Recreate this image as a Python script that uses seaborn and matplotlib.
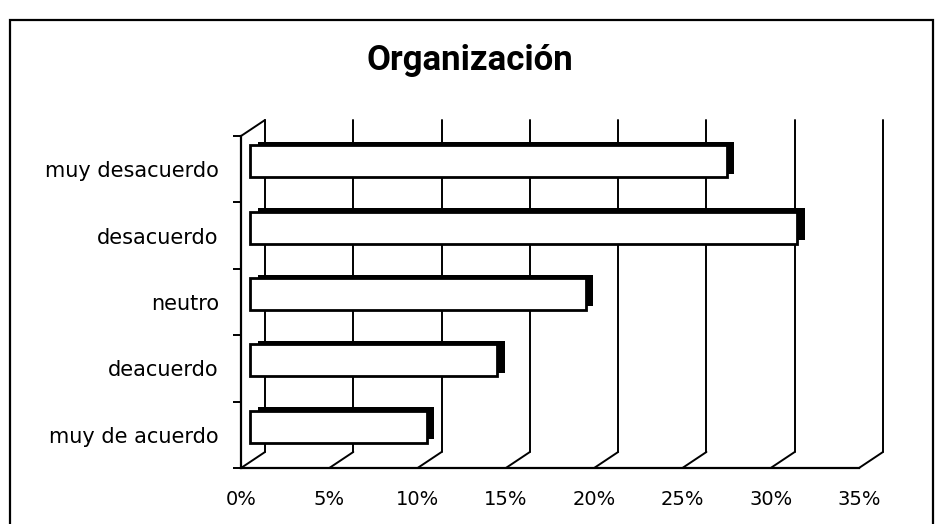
import matplotlib
matplotlib.use('Agg')
import matplotlib.pyplot as plt
import matplotlib.patheffects as pe
from matplotlib.transforms import ScaledTranslation
from matplotlib.patches import Rectangle
from matplotlib.lines import Line2D
from matplotlib.ticker import PercentFormatter, MultipleLocator, FixedLocator
import pandas as pd
import seaborn as sns

# Data
categories = ['muy desacuerdo', 'desacuerdo', 'neutro', 'deacuerdo', 'muy de acuerdo']
values = [0.27, 0.31, 0.19, 0.14, 0.10]
x_ticks = [0.0, 0.05, 0.10, 0.15, 0.20, 0.25, 0.30, 0.35]
title = 'Organización'

df = pd.DataFrame({'respuesta': categories, 'porcentaje': values})

sns.set_style('white')
plt.rcParams['font.family'] = ['DejaVu Sans']
plt.rcParams['text.color'] = 'black'
plt.rcParams['xtick.color'] = 'black'
plt.rcParams['ytick.color'] = 'black'
plt.rcParams['axes.labelcolor'] = 'black'

fig = plt.figure(figsize=(9.39, 5.24), dpi=100)
ax = fig.add_axes([0.2567, 0.1069, 0.6581, 0.6336])

# depth of the fake 3D box, in pixels
dx, dy = 24 / 100, 16 / 100
back = ScaledTranslation(dx, dy, fig.dpi_scale_trans)
mid = ScaledTranslation(9 / 100, dy / 2, fig.dpi_scale_trans)

sns.barplot(data=df, x='porcentaje', y='respuesta', orient='h', ax=ax,
            color='white', edgecolor='black', linewidth=2, width=0.48,
            saturation=1, zorder=3)
for bar in ax.patches:
    bar.set_transform(ax.transData + mid)
    bar.set_path_effects([pe.SimplePatchShadow(offset=(5.5, 2.5), shadow_rgbFace='black', alpha=1),
                          pe.Normal()])

ax.set_xlim(0, 0.35)
ax.set_ylim(len(categories) - 0.5, -0.5)

# back wall gridlines and floor diagonals
xtr = ax.get_xaxis_transform()
for xv in x_ticks:
    ax.add_line(Line2D([xv, xv], [0, 1], transform=xtr + back, color='black',
                       lw=1.4, zorder=1, clip_on=False))
    ax.annotate('', xy=(xv, 0), xycoords=xtr + back, xytext=(xv, 0), textcoords=xtr,
                arrowprops=dict(arrowstyle='-', color='black', lw=1.4,
                                shrinkA=0, shrinkB=0), annotation_clip=False)
# left wall top edge
ax.annotate('', xy=(0, 1), xycoords=ax.transAxes + back, xytext=(0, 1),
            textcoords=ax.transAxes,
            arrowprops=dict(arrowstyle='-', color='black', lw=1.4, shrinkA=0, shrinkB=0),
            annotation_clip=False)

for s in ['top', 'right']:
    ax.spines[s].set_visible(False)
for s in ['left', 'bottom']:
    ax.spines[s].set_color('black')
    ax.spines[s].set_linewidth(1.6)

ax.xaxis.set_major_locator(FixedLocator(x_ticks))
ax.xaxis.set_major_formatter(PercentFormatter(1.0, decimals=0))
ax.yaxis.set_minor_locator(MultipleLocator(1, offset=0.5))
ax.tick_params(axis='x', which='major', direction='out', length=5, width=1.4,
               color='black', pad=11, labelsize=14)
ax.tick_params(axis='y', which='major', length=0, pad=16, labelsize=15)
ax.tick_params(axis='y', which='minor', direction='out', length=6, width=1.4,
               color='black', left=True)
ax.set_xlabel('')
ax.set_ylabel('')
ax.grid(False)

fig.text(0.5, 0.885, title, ha='center', va='center', fontsize=25, fontweight='bold',
         family=['Roboto', 'DejaVu Sans'], color='black')

# outer chart border
fig.patches.append(Rectangle((0.011, -0.02), 0.983, 0.982, transform=fig.transFigure,
                             fill=False, edgecolor='black', lw=1.6))

fig.savefig('out.png', dpi=100)
